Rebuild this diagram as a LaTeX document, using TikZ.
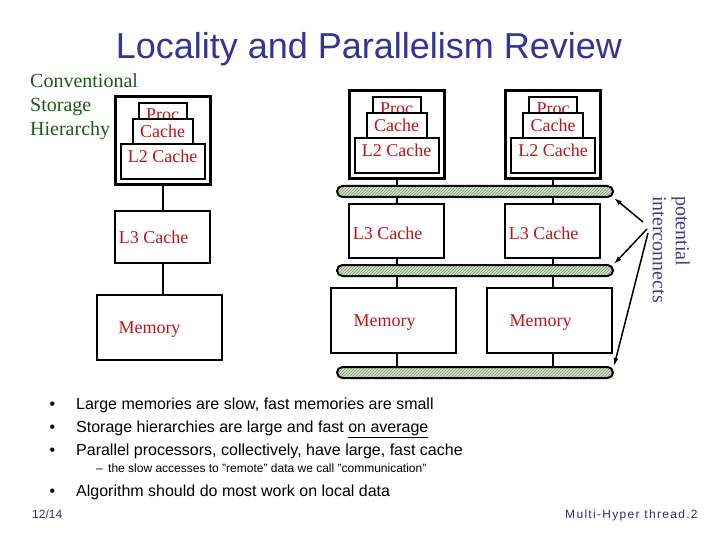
\documentclass[tikz,border=0pt]{standalone}
\usepackage{fontspec}
\setmainfont{Liberation Serif}
\setsansfont{Liberation Sans}
\usepackage{xcolor}
\usepackage{tikz}
\usetikzlibrary{arrows.meta,patterns}

\definecolor{titleblue}{RGB}{51,51,153}
\definecolor{hiergreen}{RGB}{25,90,25}
\definecolor{cachered}{RGB}{190,20,25}
\definecolor{noteblue}{RGB}{60,60,150}
\definecolor{busfill}{RGB}{212,224,204}
\definecolor{bushatch}{RGB}{120,152,108}
\definecolor{footblue}{RGB}{45,45,110}

\begin{document}
\begin{tikzpicture}[x=1pt,y=-1pt,
                >={Latex[width=5pt,length=8pt]},
                outer/.style = {draw, line width=3pt, minimum width=95pt, minimum height=88pt, inner sep=0pt},
                layer/.style = {draw, line width=2pt, fill=white, inner sep=0pt, text=cachered,
                                font=\fontsize{18}{20}\selectfont},
                unit/.style = {draw, line width=2pt, minimum width=95pt, inner sep=0pt},
                lbl/.style = {text=cachered, font=\fontsize{18}{20}\selectfont, inner sep=0pt},
                bus/.style = {draw, line width=2pt, preaction={fill=busfill}, pattern=north east lines,
                              pattern color=bushatch, rounded corners=5.5pt,
                              minimum width=276pt, minimum height=11pt, inner sep=0pt},
                wire/.style = {line width=2pt},
                point/.style = {->, line width=1.5pt},
                bullet/.style = {anchor=base west, inner sep=0pt, font=\sffamily\fontsize{16}{19}\selectfont}]
            \useasboundingbox (0,0) rectangle (720,540);

            % Title and side note
            \node[text=titleblue, font=\sffamily\fontsize{36}{40}\selectfont] (title) at (369,49) {Locality and Parallelism Review};
            \node[anchor=west, align=left, inner sep=0pt, text=hiergreen, font=\fontsize{20}{24}\selectfont] (hier) at (30,107) {Conventional\\Storage\\Hierarchy};

            % Processor stacks
            \node[outer] (out1) at (162.5,141) {};
            \node[layer, minimum width=48pt, minimum height=23pt] (proc1) at (162.5,114.5) {Proc};
            \node[layer, minimum width=60pt, minimum height=24.5pt] (cache1) at (162.5,131.75) {Cache};
            \node[layer, minimum width=84pt, minimum height=35.5pt, text depth=10pt] (ltwo1) at (162.5,161.75) {L2 Cache};

            \node[outer] (out2) at (396.5,135) {};
            \node[layer, minimum width=48pt, minimum height=23pt] (proc2) at (396.5,108.5) {Proc};
            \node[layer, minimum width=60pt, minimum height=24.5pt] (cache2) at (396.5,125.75) {Cache};
            \node[layer, minimum width=84pt, minimum height=35.5pt, text depth=10pt] (ltwo2) at (396.5,155.75) {L2 Cache};

            \node[outer] (out3) at (553,135) {};
            \node[layer, minimum width=48pt, minimum height=23pt] (proc3) at (553,108.5) {Proc};
            \node[layer, minimum width=60pt, minimum height=24.5pt] (cache3) at (553,125.75) {Cache};
            \node[layer, minimum width=84pt, minimum height=35.5pt, text depth=10pt] (ltwo3) at (553,155.75) {L2 Cache};

            % L3 and memory
            \node[unit, minimum height=52pt, label={[lbl, xshift=-9pt]center:L3 Cache}] (lthree1) at (162.5,237) {};
            \node[unit, minimum width=125pt, minimum height=65pt, label={[lbl, xshift=-10pt, yshift=-2pt]center:Memory}] (mem1) at (159.5,327.5) {};
            \node[unit, minimum height=54pt, label={[lbl, xshift=-9pt, yshift=-2pt]center:L3 Cache}] (lthree2) at (396.5,231) {};
            \node[unit, minimum width=125pt, minimum height=65pt, label={[lbl, xshift=-9pt, yshift=-2pt]center:Memory}] (mem2) at (393.5,320.5) {};
            \node[unit, minimum height=54pt, label={[lbl, xshift=-9pt, yshift=-2pt]center:L3 Cache}] (lthree3) at (552.5,231) {};
            \node[unit, minimum width=125pt, minimum height=65pt, label={[lbl, xshift=-9pt, yshift=-2pt]center:Memory}] (mem3) at (549.5,320.5) {};

            % Interconnects
            \node[bus] (bus1) at (475,191.5) {};
            \node[bus] (bus2) at (475,270.5) {};
            \node[bus] (bus3) at (475,372.5) {};

            %Edges
            \draw[wire] (out1) -- (lthree1);
            \draw[wire] (lthree1.south) -- (lthree1.south |- mem1.north);

            \draw[wire] (out2.south) -- (out2.south |- bus1.north);
            \draw[wire] (lthree2.north) -- (lthree2.north |- bus1.south);
            \draw[wire] (lthree2.south) -- (lthree2.south |- bus2.north);
            \draw[wire] (lthree2.south |- bus2.south) -- (lthree2.south |- mem2.north);
            \draw[wire] (lthree2.south |- mem2.south) -- (lthree2.south |- bus3.north);

            \draw[wire] (out3.south) -- (out3.south |- bus1.north);
            \draw[wire] (lthree3.north) -- (lthree3.north |- bus1.south);
            \draw[wire] (lthree3.south) -- (lthree3.south |- bus2.north);
            \draw[wire] (lthree3.south |- bus2.south) -- (lthree3.south |- mem3.north);
            \draw[wire] (lthree3.south |- mem3.south) -- (lthree3.south |- bus3.north);

            % Note on the interconnects
            \node[rotate=-90, anchor=north west, align=left, inner sep=0pt, text=noteblue,
                  font=\fontsize{20}{23}\selectfont] (note) at (690,196) {potential\\interconnects};
            \coordinate (tail1) at (643,222);
            \coordinate (tail2) at (647,229);
            \coordinate (tail3) at (648,233);
            \draw[point] (tail1) -- (bus1.south east);
            \draw[point] (tail2) -- (bus2.north east);
            \draw[point] (tail3) -- (bus3.north east);

            % Bullets
            \node[bullet] (b1) at (49.5,409) {\makebox[26.5pt][l]{\textbullet}Large memories are slow, fast memories are small};
            \node[bullet] (b2) at (49.5,432) {\makebox[26.5pt][l]{\textbullet}Storage hierarchies are large and fast \underline{on average}};
            \node[bullet] (b3) at (49.5,455) {\makebox[26.5pt][l]{\textbullet}Parallel processors, collectively, have large, fast cache};
            \node[bullet, font=\sffamily\fontsize{12}{14}\selectfont] (s1) at (96,472) {\makebox[12pt][l]{\textendash}the slow accesses to "remote" data we call "communication"};
            \node[bullet] (b4) at (49.5,496) {\makebox[26.5pt][l]{\textbullet}Algorithm should do most work on local data};

            % Footer
            \node[anchor=base west, inner sep=0pt, text=footblue, font=\sffamily\fontsize{12}{14}\selectfont] (page) at (32,518) {12/14};
            \node[anchor=base west, inner sep=0pt, text=footblue, font=\sffamily\fontsize{12}{14}\selectfont\addfontfeatures{LetterSpace=11}] (foot) at (565,518) {Multi-Hyper thread.2};
        \end{tikzpicture}
\end{document}
